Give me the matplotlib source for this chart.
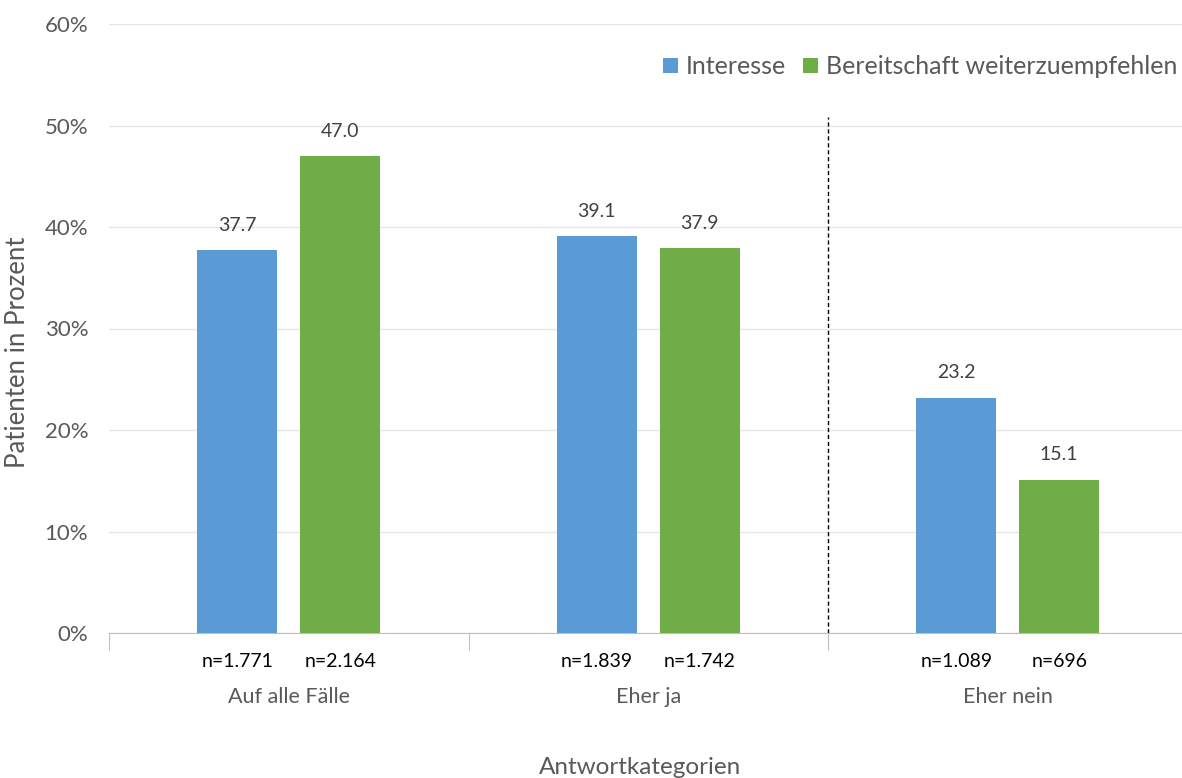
import matplotlib.pyplot as plt
import numpy as np

categories = ['Auf alle Fälle', 'Eher ja', 'Eher nein']
interesse = [37.7, 39.1, 23.2]
bereitschaft = [47.0, 37.9, 15.1]
n_interesse = ['n=1.771', 'n=1.839', 'n=1.089']
n_bereitschaft = ['n=2.164', 'n=1.742', 'n=696']
yticks = [0, 10, 20, 30, 40, 50, 60]

blue = '#5b9bd5'
green = '#70ad47'
grey = '#595959'

plt.rcParams['font.family'] = ['Lato', 'DejaVu Sans']

fig = plt.figure(figsize=(11.82, 7.78), dpi=100)
ax = fig.add_axes([109 / 1182, 1 - 633 / 778, 1078.5 / 1182, (633 - 24) / 778])

x = np.arange(len(categories))
w = 0.223
off = 0.143
b1 = ax.bar(x - off, interesse, w, color=blue, label='Interesse', zorder=3)
b2 = ax.bar(x + off, bereitschaft, w, color=green, label='Bereitschaft weiterzuempfehlen', zorder=3)

for bars in (b1, b2):
    for r in bars:
        ax.text(r.get_x() + r.get_width() / 2, r.get_height() + 1.6, f'{r.get_height():.1f}',
                ha='center', va='bottom', fontsize=14, color='#404040')

for i in range(len(categories)):
    ax.text(i - off, -2.8, n_interesse[i], ha='center', va='center', fontsize=14, color='black')
    ax.text(i + off, -2.8, n_bereitschaft[i], ha='center', va='center', fontsize=14, color='black')
    ax.text(i, -6.3, categories[i], ha='center', va='center', fontsize=15.5, color=grey)

ax.set_xlim(-0.5, 2.5)
ax.set_ylim(0, 60)
ax.set_yticks(yticks)
ax.set_yticklabels([f'{t}%' for t in yticks], fontsize=16, color=grey)
ax.tick_params(axis='y', length=0, pad=15)
ax.set_xticks([-0.5, 0.5, 1.5, 2.5])
ax.set_xticklabels([])
ax.tick_params(axis='x', length=12, color='#bfbfbf', direction='out')
ax.grid(axis='y', color='#e6e6e6', linewidth=1, zorder=0)
for s in ['top', 'right', 'left']:
    ax.spines[s].set_visible(False)
ax.spines['bottom'].set_color('#bfbfbf')

ax.plot([1.5, 1.5], [0, 50.8], color='black', linestyle='--', linewidth=1, dashes=(3, 2), zorder=4)

ax.set_ylabel('Patienten in Prozent', fontsize=18.5, color=grey)
ax.yaxis.set_label_coords(-0.073, 0.461)
fig.text(640 / 1182, 1 - 768 / 778, 'Antwortkategorien', ha='center', va='center', fontsize=17.5, color=grey)

leg = ax.legend(loc='upper right', bbox_to_anchor=(0.9995, 0.965), ncol=2, frameon=False,
                fontsize=18, handlelength=0.6, handleheight=0.6, handletextpad=0.3,
                columnspacing=0.7, borderaxespad=0)
for t in leg.get_texts():
    t.set_color(grey)

fig.savefig('out.png', dpi=100)
